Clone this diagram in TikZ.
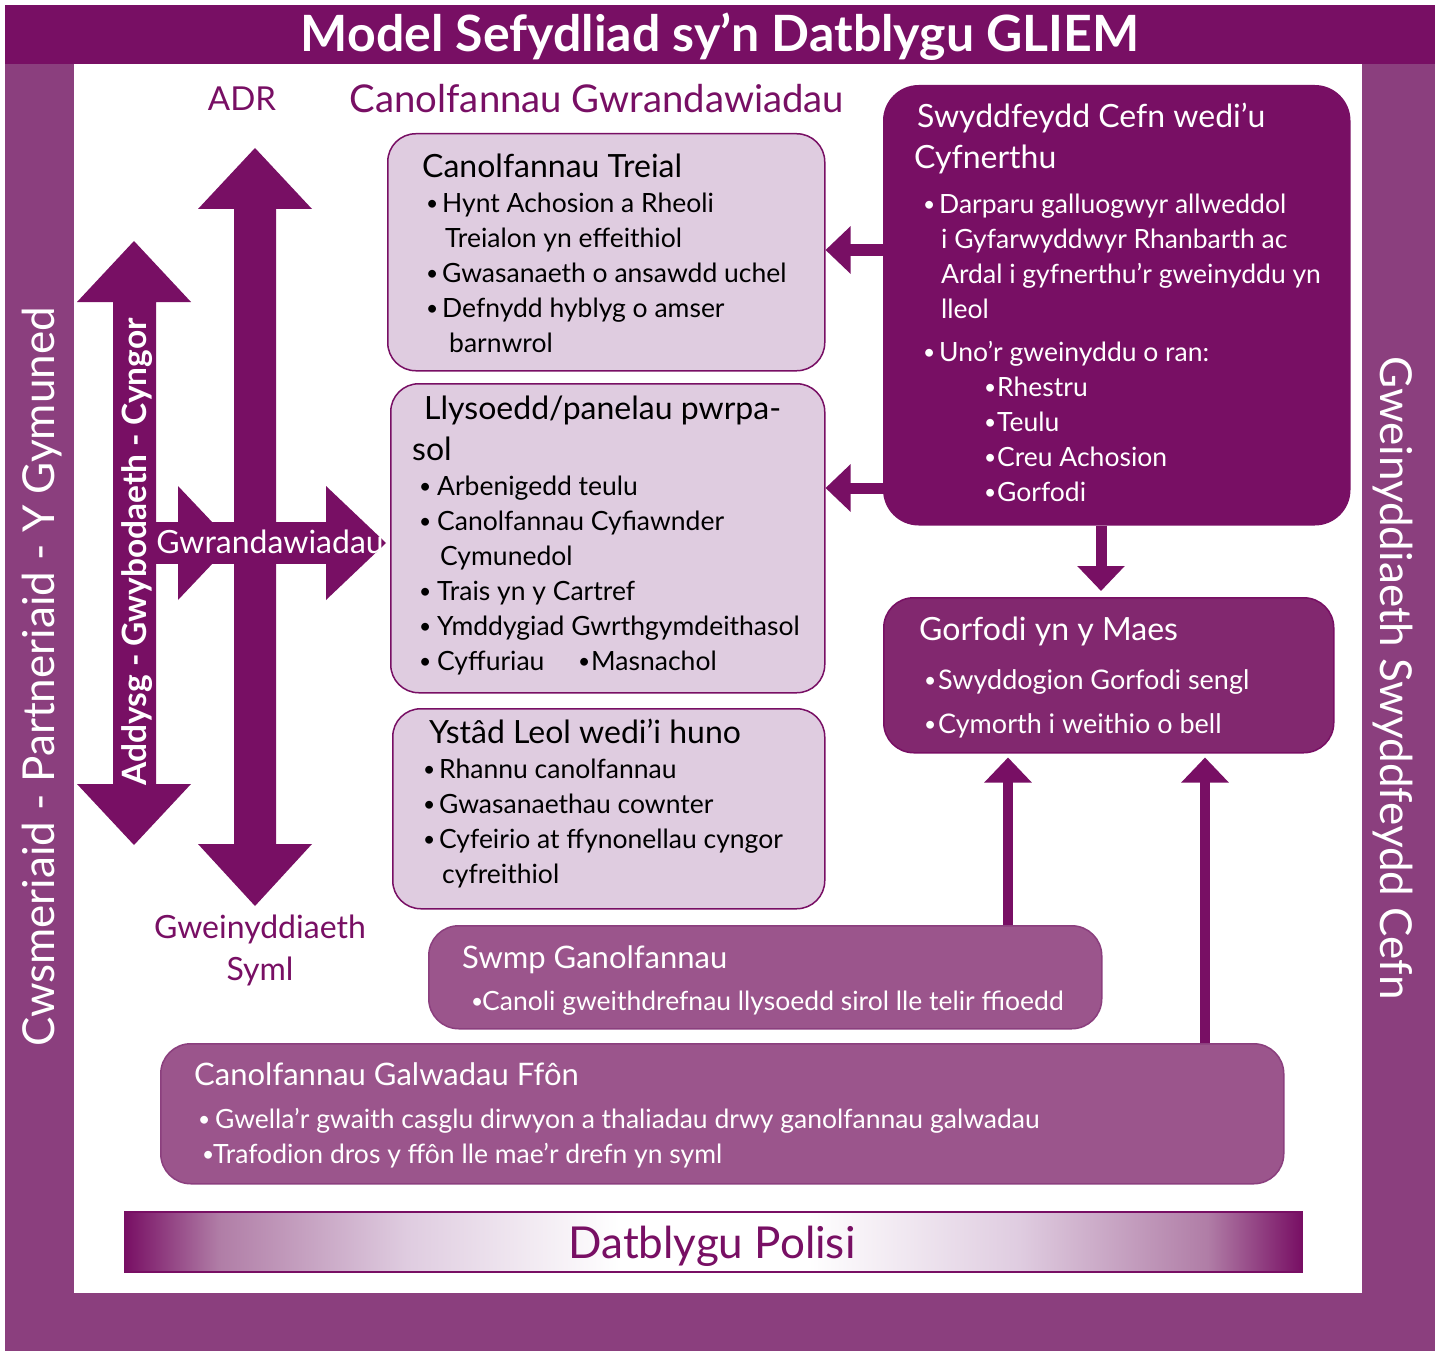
\documentclass[tikz,border=0pt]{standalone}
\usepackage{fontspec}
\setmainfont{Lato}
\usetikzlibrary{arrows.meta}

\definecolor{plum}{RGB}{120,15,100}
\definecolor{mauve}{RGB}{139,63,126}
\definecolor{fieldpurple}{RGB}{130,40,111}
\definecolor{midpurple}{RGB}{155,85,140}
\definecolor{lilac}{RGB}{223,204,224}
\definecolor{mauvelt}{RGB}{176,125,166}

\newcommand{\bul}[1][17pt]{\makebox[#1][l]{\hspace*{1pt}\raisebox{1.5pt}{\fontsize{21}{21}\selectfont•}}}
\newcommand{\ttl}{\fontsize{32}{35}\selectfont}

\pgfdeclarehorizontalshading{polishade}{100bp}{color(0bp)=(plum); color(25bp)=(plum);
  color(29bp)=(mauvelt); color(37bp)=(lilac); color(46bp)=(white); color(54bp)=(white);
  color(63bp)=(lilac); color(71bp)=(mauvelt); color(75bp)=(plum); color(100bp)=(plum)}

\begin{document}
\begin{tikzpicture}[x=1pt,y=-1pt,
  box/.style={rounded corners=28pt,draw=plum,line width=1.5pt,inner sep=0pt,anchor=north west},
  lightbox/.style={box,fill=lilac},
  % multi-line texts sit on the baseline of their last line
  txt/.style={anchor=base west,align=left,inner sep=0pt,font=\fontsize{26.5}{35}\selectfont},
  link/.style={draw=plum,line width=11pt,-{Triangle[width=46pt,length=25pt]}}]

\useasboundingbox (0,0) rectangle (1443,1351);

% frame and title bar
\fill[mauve] (5,5) rectangle (1435,1351);
\fill[white] (74,64) rectangle (1362,1293);
\fill[plum] (5,5) rectangle (1435,64);
\node[anchor=base,text=white,font=\fontsize{50}{50}\selectfont\bfseries] (title) at (720,52) {Model Sefydliad sy’n Datblygu GLIEM};

% side labels
\node[rotate=90,text=white,font=\fontsize{44}{44}\selectfont] (customers) at (42,677) {Cwsmeriaid - Partneriaid - Y Gymuned};
\node[rotate=-90,text=white,font=\fontsize{44}{44}\selectfont] (backadmin) at (1393,678) {Gweinyddiaeth Swyddfeydd Cefn};

% left hand arrows
\fill[plum] (134,241) -- (191,302) -- (156,302) -- (156,784) -- (191,784) -- (134,845)
  -- (77,784) -- (113,784) -- (113,302) -- (77,302) -- cycle;
\fill[plum] (156,522) rectangle (326,564);
\fill[plum] (178,486) -- (232,543) -- (178,600) -- cycle;
\fill[plum] (326,486) -- (386,543) -- (326,600) -- cycle;
\fill[plum] (255,148) -- (312,209) -- (276,209) -- (276,844) -- (312,844) -- (255,906)
  -- (198,844) -- (234,844) -- (234,209) -- (198,209) -- cycle;

\node[rotate=90,text=white,font=\fontsize{33.5}{33.5}\selectfont\bfseries] (advice) at (137,552) {Addysg - Gwybodaeth - Cyngor};
\node[anchor=base,text=white,font=\fontsize{32}{32}\selectfont] (hearings) at (270,553) {Gwrandawiadau};

\node[anchor=base,text=plum,font=\fontsize{33}{33}\selectfont] (adr) at (242,111) {ADR};
\node[anchor=base,text=plum,font=\fontsize{38.3}{38}\selectfont] (hearcentres) at (597,113) {Canolfannau Gwrandawiadau};
\node[anchor=base,text=plum,align=center,font=\fontsize{32}{42}\selectfont] (simple) at (260,980) {Gweinyddiaeth\\Syml};

% boxes
\node[lightbox,minimum width=437pt,minimum height=237pt] (treial) at (387,133) {};
\node[lightbox,minimum width=434pt,minimum height=309pt] (llys) at (390,383) {};
\node[lightbox,minimum width=432pt,minimum height=200pt] (ystad) at (392,708) {};
\node[box,fill=plum,rounded corners=35pt,minimum width=466pt,minimum height=439pt] (back) at (883,85) {};
\node[box,fill=fieldpurple,rounded corners=30pt,minimum width=450pt,minimum height=155pt] (gorf) at (883,597) {};
\node[box,fill=midpurple,draw=mauve,rounded corners=30pt,minimum width=673pt,minimum height=103pt] (swmp) at (428,925) {};
\node[box,fill=midpurple,draw=mauve,rounded corners=30pt,minimum width=1123pt,minimum height=140pt] (galw) at (160,1043) {};
\node[box,rounded corners=0pt,shading=polishade,minimum width=1177pt,minimum height=60pt] (policy) at (124,1211) {};
\node[anchor=base,text=plum,font=\fontsize{44}{44}\selectfont] (policytxt) at (712,1258) {Datblygu Polisi};

% box texts
\node[txt] (treialtxt) at (422,352) {{\ttl Canolfannau Treial}\\
  \hspace*{3pt}\bul Hynt Achosion a Rheoli\\
  \hspace*{23pt}Treialon yn effeithiol\\
  \hspace*{3pt}\bul Gwasanaeth o ansawdd uchel\\
  \hspace*{3pt}\bul Defnydd hyblyg o amser\\
  \hspace*{27pt}barnwrol};
\node[txt] (llystxt) at (412,670) {{\ttl\hspace*{12pt}Llysoedd/panelau pwrpa-}\\[6pt]
  {\ttl sol}\\
  \hspace*{6pt}\bul[19pt]Arbenigedd teulu\\
  \hspace*{6pt}\bul[19pt]Canolfannau Cyfiawnder\\
  \hspace*{28pt}Cymunedol\\
  \hspace*{6pt}\bul[19pt]Trais yn y Cartref\\
  \hspace*{6pt}\bul[19pt]Ymddygiad Gwrthgymdeithasol\\
  \hspace*{6pt}\bul[19pt]\makebox[140pt][l]{Cyffuriau}\bul[14pt]Masnachol};
\node[txt] (ystadtxt) at (422,883) {{\ttl\hspace*{7pt}Ystâd Leol wedi’i huno}\\
  \bul Rhannu canolfannau\\
  \bul Gwasanaethau cownter\\
  \bul Cyfeirio at ffynonellau cyngor\\
  \hspace*{20pt}cyfreithiol};
\node[txt,text=white] (backtxt) at (914,501) {{\ttl\hspace*{3pt}Swyddfeydd Cefn wedi’u}\\[6pt]
  {\ttl Cyfnerthu}\\[10pt]
  \hspace*{8pt}\bul Darparu galluogwyr allweddol\\
  \hspace*{27pt}i Gyfarwyddwyr Rhanbarth ac\\
  \hspace*{27pt}Ardal i gyfnerthu’r gweinyddu yn\\
  \hspace*{27pt}lleol\\[8pt]
  \hspace*{8pt}\bul Uno’r gweinyddu o ran:\\
  \hspace*{69pt}\bul[14pt]Rhestru\\
  \hspace*{69pt}\bul[14pt]Teulu\\
  \hspace*{69pt}\bul[14pt]Creu Achosion\\
  \hspace*{69pt}\bul[14pt]Gorfodi};
\node[txt,text=white,font=\fontsize{27}{44}\selectfont] (gorftxt) at (919,733) {{\fontsize{32}{44}\selectfont Gorfodi yn y Maes}\\[5pt]
  \hspace*{4pt}\bul[15pt]Swyddogion Gorfodi sengl\\
  \hspace*{4pt}\bul[15pt]Cymorth i weithio o bell};
\node[txt,text=white,font=\fontsize{26.5}{42}\selectfont] (swmptxt) at (462,1010) {{\fontsize{31}{42}\selectfont Swmp Ganolfannau}\\
  \hspace*{8pt}\bul[12pt]Canoli gweithdrefnau llysoedd sirol lle telir ffioedd};
\node[txt,text=white,font=\fontsize{26.5}{35}\selectfont] (galwtxt) at (194,1163) {{\fontsize{31}{35}\selectfont Canolfannau Galwadau Ffôn}\\[8pt]
  \hspace*{3pt}\bul[18pt]Gwella’r gwaith casglu dirwyon a thaliadau drwy ganolfannau galwadau\\
  \hspace*{7pt}\bul[12pt]Trafodion dros y ffôn lle mae’r drefn yn syml};

% connectors
\draw[link] (back.west |- 0,250) -- (treial.east |- 0,250);
\draw[link] (back.west |- 0,488) -- (llys.east |- 0,488);
\draw[link,shorten >=6pt] (back.south -| 1101,0) -- (gorf.north -| 1101,0);
\draw[link,line width=10pt,shorten >=4pt] (swmp.north -| 1008,0) -- (gorf.south -| 1008,0);
\draw[link,line width=10pt,shorten >=4pt] (galw.north -| 1205,0) -- (gorf.south -| 1205,0);
\end{tikzpicture}
\end{document}
